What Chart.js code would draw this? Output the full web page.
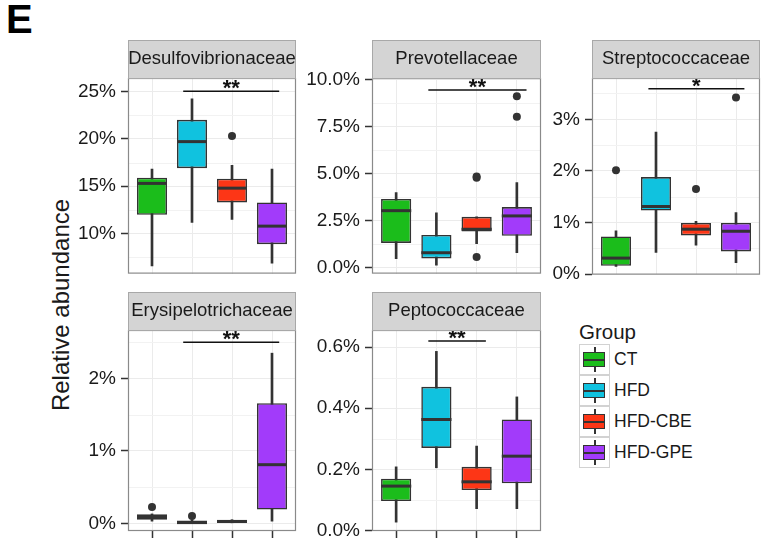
<!DOCTYPE html>
<html>
<head>
<meta charset="utf-8">
<script src="https://cdn.jsdelivr.net/npm/chart.js@4.4.1/dist/chart.umd.min.js"></script>
<style>
  body { margin: 0; background: #fff; font-family: 'Liberation Sans', Arial, sans-serif; }
  #wrap { position: relative; width: 767px; height: 544px; overflow: hidden; }
  canvas { position: absolute; }
  #tag { position: absolute; left: 6px; top: -3px; font-size: 40px; font-weight: bold; color: #000; }
  #ytitle { position: absolute; left: 61px; top: 305px; transform: translate(-50%, -50%) rotate(-90deg);
            font-size: 24px; color: #1a1a1a; white-space: nowrap; }
  #legend { position: absolute; left: 579px; top: 320px; width: 180px; color: #1a1a1a; }
  #legend .ttl { font-size: 20.5px; height: 24px; line-height: 24px; }
  .key { position: relative; height: 31px; }
  .key .sw { position: absolute; left: 0; top: 0; width: 29px; height: 29px; border: 1px solid #d2d2d2; background: #fff; }
  .key .bx { position: absolute; left: 3px; top: 7px; width: 20px; height: 13px; border: 1.5px solid #333; }
  .key .md { position: absolute; left: 0; top: 5.5px; width: 20px; height: 2px; background: #333; }
  .key .wt { position: absolute; left: 14px; top: 2px; width: 1.5px; height: 5px; background: #333; }
  .key .wb { position: absolute; left: 14px; top: 22px; width: 1.5px; height: 5px; background: #333; }
  .key .lb { position: absolute; left: 35px; top: 0; line-height: 31px; font-size: 17.5px; white-space: nowrap; }
</style>
</head>
<body>
<div id="wrap">
  <div id="tag">E</div>
  <div id="ytitle">Relative abundance</div>
  <div id="legend"><div class="ttl">Group</div></div>
</div>
<script>
const groups = ['CT', 'HFD', 'HFD-CBE', 'HFD-GPE'];
const groupColors = ['#1bbd1b', '#10c2df', '#fd3616', '#a23bfa'];

// Desulfovibrionaceae (%)
const desulfoLow  = [6.6, 11.2, 11.5, 6.9];
const desulfoQ1   = [12.0, 16.9, 13.3, 8.9];
const desulfoMed  = [15.3, 19.7, 14.8, 10.8];
const desulfoQ3   = [15.9, 22.0, 15.8, 13.3];
const desulfoHigh = [16.8, 24.2, 17.2, 16.8];
const desulfoOut  = [[], [], [20.3], []];
const desulfoTicks = [10, 15, 20, 25];
const desulfoTickLabels = ['10%', '15%', '20%', '25%'];

// Prevotellaceae (%)
const prevoLow  = [0.49, 0.14, 1.28, 0.80];
const prevoQ1   = [1.32, 0.50, 1.93, 1.70];
const prevoMed  = [3.04, 0.80, 2.05, 2.76];
const prevoQ3   = [3.66, 1.75, 2.71, 3.23];
const prevoHigh = [4.00, 2.93, 2.71, 4.53];
const prevoOut  = [[], [], [4.79, 4.86, 0.57], [9.13, 8.04]];
const prevoTicks = [0, 2.5, 5, 7.5, 10];
const prevoTickLabels = ['0.0%', '2.5%', '5.0%', '7.5%', '10.0%'];

// Streptococcaceae (%)
const streptoLow  = [0.15, 0.42, 0.56, 0.22];
const streptoQ1   = [0.16, 1.23, 0.75, 0.44];
const streptoMed  = [0.31, 1.31, 0.87, 0.83];
const streptoQ3   = [0.73, 1.88, 0.99, 0.99];
const streptoHigh = [0.84, 2.75, 1.02, 1.19];
const streptoOut  = [[2.01], [], [1.65], [3.42]];
const streptoTicks = [0, 1, 2, 3];
const streptoTickLabels = ['0%', '1%', '2%', '3%'];

// Erysipelotrichaceae (%)
const erysiLow  = [0.03, 0.00, 0.00, 0.03];
const erysiQ1   = [0.05, 0.00, 0.01, 0.19];
const erysiMed  = [0.09, 0.01, 0.025, 0.81];
const erysiQ3   = [0.124, 0.04, 0.05, 1.66];
const erysiHigh = [0.13, 0.05, 0.05, 2.35];
const erysiOut  = [[0.226], [0.10], [], []];
const erysiTicks = [0, 1, 2];
const erysiTickLabels = ['0%', '1%', '2%'];

// Peptococcaceae (%)
const peptoLow  = [0.027, 0.205, 0.071, 0.071];
const peptoQ1   = [0.096, 0.270, 0.132, 0.154];
const peptoMed  = [0.145, 0.363, 0.159, 0.243];
const peptoQ3   = [0.169, 0.470, 0.208, 0.363];
const peptoHigh = [0.208, 0.586, 0.276, 0.437];
const peptoOut  = [[], [], [], []];
const peptoTicks = [0, 0.2, 0.4, 0.6];
const peptoTickLabels = ['0.0%', '0.2%', '0.4%', '0.6%'];

// significance bars: [from, to] on the group axis (1..4), y value, label
const sigFrom  = [1.78, 1.80, 1.81, 1.78, 1.80];
const sigTo    = [4.18, 4.24, 4.21, 4.18, 3.23];
const sigY     = [25, 9.46, 3.59, 2.50, 0.62];
const sigLabel = ['**', '**', '*', '**', '**'];

const FONT = "'Liberation Sans', Arial, sans-serif";
const wrap = document.getElementById('wrap');

// strip, minor grid, border, medians, significance
const facetPlugin = {
  id: 'facet',
  beforeDatasetsDraw(chart) {
    const o = chart.options.plugins.facet;
    const {ctx, chartArea: a} = chart;
    const y = chart.scales.y;
    ctx.save();
    ctx.strokeStyle = '#f2f2f2';
    ctx.lineWidth = 1;
    o.minor.forEach(v => {
      const py = Math.round(y.getPixelForValue(v)) + 0.5;
      if (py < a.top || py > a.bottom) return;
      ctx.beginPath(); ctx.moveTo(a.left, py); ctx.lineTo(a.right, py); ctx.stroke();
    });
    ctx.restore();
  },
  afterDatasetsDraw(chart) {
    const o = chart.options.plugins.facet;
    const {ctx} = chart;
    const x = chart.scales.x, y = chart.scales.y;
    ctx.save();
    // medians
    const boxes = chart.getDatasetMeta(1).data;
    ctx.strokeStyle = '#333';
    ctx.lineWidth = 3;
    o.med.forEach((m, i) => {
      const b = boxes[i];
      const py = y.getPixelForValue(m);
      ctx.beginPath(); ctx.moveTo(b.x - b.width / 2, py); ctx.lineTo(b.x + b.width / 2, py); ctx.stroke();
    });
    // significance
    const sy = y.getPixelForValue(o.sigY);
    ctx.strokeStyle = '#111';
    ctx.lineWidth = 1.5;
    ctx.beginPath();
    ctx.moveTo(x.getPixelForValue(o.sigFrom), sy);
    ctx.lineTo(x.getPixelForValue(o.sigTo), sy);
    ctx.stroke();
    ctx.fillStyle = '#111';
    ctx.font = 'bold 22px ' + FONT;
    ctx.textAlign = 'center';
    ctx.textBaseline = 'alphabetic';
    ctx.fillText(o.sigLabel, (x.getPixelForValue(o.sigFrom) + x.getPixelForValue(o.sigTo)) / 2, sy + 4);
    ctx.restore();
  },
  afterDraw(chart) {
    const o = chart.options.plugins.facet;
    const {ctx, chartArea: a} = chart;
    ctx.save();
    ctx.strokeStyle = '#8a8a8a';
    ctx.lineWidth = 1.2;
    ctx.strokeRect(a.left + 0.5, a.top + 0.5, a.right - a.left - 1, a.bottom - a.top - 1);
    // strip
    ctx.fillStyle = '#d4d4d4';
    ctx.fillRect(a.left, a.top - 38, a.right - a.left, 38);
    ctx.strokeStyle = '#a8a8a8';
    ctx.lineWidth = 1;
    ctx.strokeRect(a.left + 0.5, a.top - 38 + 0.5, a.right - a.left - 1, 38);
    ctx.fillStyle = '#1a1a1a';
    ctx.font = '18.5px ' + FONT;
    ctx.textAlign = 'center';
    ctx.textBaseline = 'middle';
    ctx.fillText(o.title, (a.left + a.right) / 2, a.top - 19);
    ctx.restore();
  }
};

function makePanel(p) {
  const c = document.createElement('canvas');
  const bottomPad = 12;
  const xh = p.xTicks ? 8 : 0;
  const w = 72 + p.w + 6, h = 39 + p.h + xh + bottomPad;
  c.width = w; c.height = h;
  c.style.left = (p.left - 72) + 'px';
  c.style.top = (p.top - 39) + 'px';
  wrap.appendChild(c);

  const outliers = [];
  p.out.forEach((arr, i) => arr.forEach(v => outliers.push({x: i + 1, y: v})));

  new Chart(c.getContext('2d'), {
    type: 'bar',
    data: {
      datasets: [
        {
          type: 'bar',
          data: groups.map((g, i) => ({x: i + 1, y: [p.low[i], p.high[i]]})),
          backgroundColor: '#333',
          barThickness: 2,
          grouped: false,
          order: 3
        },
        {
          type: 'bar',
          data: groups.map((g, i) => ({x: i + 1, y: [p.q1[i], p.q3[i]]})),
          backgroundColor: groupColors,
          borderColor: '#333',
          borderWidth: 1.6,
          borderSkipped: false,
          barPercentage: 0.75,
          categoryPercentage: 1,
          grouped: false,
          order: 2
        },
        {
          type: 'scatter',
          data: outliers,
          pointRadius: 4,
          pointBackgroundColor: '#333',
          pointBorderWidth: 0,
          order: 1
        }
      ]
    },
    options: {
      responsive: false,
      animation: false,
      devicePixelRatio: 1,
      layout: {padding: {top: 39, right: 6, bottom: bottomPad, left: 0}},
      plugins: {
        legend: {display: false},
        tooltip: {enabled: false},
        facet: {
          title: p.title, minor: p.minor, med: p.med,
          sigFrom: p.sig[0], sigTo: p.sig[1], sigY: p.sig[2], sigLabel: p.sig[3]
        }
      },
      scales: {
        x: {
          type: 'linear', min: 0.4, max: 4.6, offset: false,
          afterBuildTicks: s => { s.ticks = groups.map((g, i) => ({value: i + 1})); },
          afterFit: s => { s.height = xh; },
          ticks: {display: false},
          grid: {color: '#ebebeb', lineWidth: 1, drawTicks: p.xTicks, tickLength: 7, tickColor: '#333', tickWidth: 1.5, offset: false},
          border: {display: false}
        },
        y: {
          type: 'linear', min: p.min, max: p.max,
          afterBuildTicks: s => { s.ticks = p.ticks.map(v => ({value: v})); },
          afterFit: s => { s.width = 72; },
          ticks: {
            callback: (v, i) => p.tickLabels[i],
            font: {size: 19, family: FONT}, color: '#1a1a1a', padding: 5
          },
          grid: {color: '#ebebeb', lineWidth: 1, tickLength: 7, tickColor: '#333', tickWidth: 1.5},
          border: {display: false}
        }
      }
    },
    plugins: [facetPlugin]
  });
}

makePanel({title: 'Desulfovibrionaceae', left: 128, top: 78, w: 168, h: 200, xTicks: false,
  min: 5.8, max: 26.4, ticks: desulfoTicks, tickLabels: desulfoTickLabels, minor: [7.5, 12.5, 17.5, 22.5],
  low: desulfoLow, q1: desulfoQ1, med: desulfoMed, q3: desulfoQ3, high: desulfoHigh, out: desulfoOut,
  sig: [sigFrom[0], sigTo[0], sigY[0], sigLabel[0]]});
makePanel({title: 'Prevotellaceae', left: 372, top: 78, w: 169, h: 200, xTicks: false,
  min: -0.31, max: 10.1, ticks: prevoTicks, tickLabels: prevoTickLabels, minor: [1.25, 3.75, 6.25, 8.75],
  low: prevoLow, q1: prevoQ1, med: prevoMed, q3: prevoQ3, high: prevoHigh, out: prevoOut,
  sig: [sigFrom[1], sigTo[1], sigY[1], sigLabel[1]]});
makePanel({title: 'Streptococcaceae', left: 592, top: 78, w: 168, h: 201, xTicks: false,
  min: -0.01, max: 3.8, ticks: streptoTicks, tickLabels: streptoTickLabels, minor: [0.5, 1.5, 2.5, 3.5],
  low: streptoLow, q1: streptoQ1, med: streptoMed, q3: streptoQ3, high: streptoHigh, out: streptoOut,
  sig: [sigFrom[2], sigTo[2], sigY[2], sigLabel[2]]});
makePanel({title: 'Erysipelotrichaceae', left: 128, top: 330, w: 168, h: 201, xTicks: true,
  min: -0.106, max: 2.67, ticks: erysiTicks, tickLabels: erysiTickLabels, minor: [0.5, 1.5, 2.5],
  low: erysiLow, q1: erysiQ1, med: erysiMed, q3: erysiQ3, high: erysiHigh, out: erysiOut,
  sig: [sigFrom[3], sigTo[3], sigY[3], sigLabel[3]]});
makePanel({title: 'Peptococcaceae', left: 372, top: 330, w: 169, h: 201, xTicks: true,
  min: -0.002, max: 0.656, ticks: peptoTicks, tickLabels: peptoTickLabels, minor: [0.1, 0.3, 0.5],
  low: peptoLow, q1: peptoQ1, med: peptoMed, q3: peptoQ3, high: peptoHigh, out: peptoOut,
  sig: [sigFrom[4], sigTo[4], sigY[4], sigLabel[4]]});

// legend
const legend = document.getElementById('legend');
groups.forEach((g, i) => {
  const k = document.createElement('div');
  k.className = 'key';
  k.innerHTML = '<div class="sw"><div class="wt"></div><div class="bx" style="background:' + groupColors[i] +
    '"><div class="md"></div></div><div class="wb"></div></div><div class="lb">' + g + '</div>';
  legend.appendChild(k);
});
</script>
</body>
</html>
